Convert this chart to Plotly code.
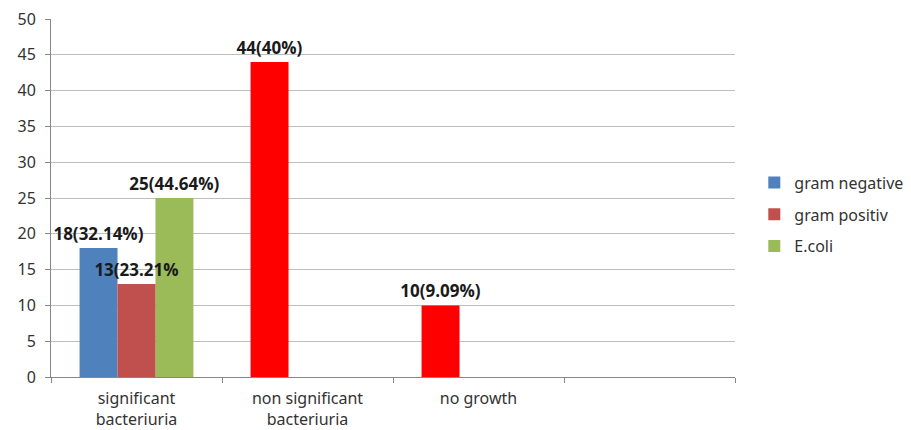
import plotly.graph_objects as go

categories = ["significant<br>bacteriuria", "non significant<br>bacteriuria", "no growth", " "]
gram_negative = [18, 44, 10, None]
gram_negative_labels = ["18(32.14%)", "44(40%)", "10(9.09%)", ""]
gram_negative_colors = ["#4F81BD", "#FF0000", "#FF0000", "#4F81BD"]
gram_positive = [13, None, None, None]
gram_positive_labels = ["13(23.21%", "", "", ""]
ecoli = [25, None, None, None]
ecoli_labels = ["25(44.64%)", "", "", ""]

label_font = dict(family="Open Sans", size=17, color="#1a1a1a", weight="bold")
common = dict(textposition="outside", textfont=label_font, cliponaxis=False,
              constraintext="none", width=0.222)

fig = go.Figure()
# drawing order: E.coli first, gram positive last so its label stays on top
fig.add_trace(go.Bar(name="E.coli", x=categories, y=ecoli, offset=0.111,
                     marker=dict(color="#9BBB59", line=dict(width=0)),
                     text=ecoli_labels, legendgroup="c", legendrank=3, **common))
fig.add_trace(go.Bar(name="gram negative", x=categories, y=gram_negative, offset=-0.333,
                     marker=dict(color=gram_negative_colors, line=dict(width=0)),
                     text=gram_negative_labels, legendgroup="a", legendrank=1, **common))
fig.add_trace(go.Bar(name="gram positiv", x=categories, y=gram_positive, offset=-0.111,
                     marker=dict(color="#C0504D", line=dict(width=0)),
                     text=gram_positive_labels, legendgroup="b", legendrank=2, **common))

fig.update_layout(
    width=911, height=430,
    margin=dict(l=51, r=176, t=19, b=53, autoexpand=False),
    paper_bgcolor="white", plot_bgcolor="white",
    barmode="overlay",
    font=dict(family="Noto Sans", size=16, color="#333333"),
    legend=dict(xref="container", yref="container", x=0.828, y=0.615,
                xanchor="left", yanchor="top",
                font=dict(family="Noto Sans", size=16, color="#333333"),
                traceorder="grouped", tracegroupgap=8,
                itemwidth=30, bgcolor="rgba(0,0,0,0)"),
    showlegend=True,
)
fig.update_xaxes(type="category", categoryorder="array", categoryarray=categories,
                 tickson="boundaries", ticks="outside", ticklen=5, tickcolor="#868686",
                 showline=True, linecolor="#868686", linewidth=1, ticklabelstandoff=7,
                 showgrid=False, tickfont=dict(size=16, color="#333333"))
fig.update_yaxes(range=[0, 50], dtick=5, showgrid=True, gridcolor="#BEBEBE", gridwidth=1,
                 showline=True, linecolor="#868686", linewidth=1,
                 ticks="outside", ticklen=5, tickcolor="#868686", ticklabelstandoff=6,
                 tickfont=dict(size=16, color="#333333"), zeroline=False)

fig.write_html("out.html")
